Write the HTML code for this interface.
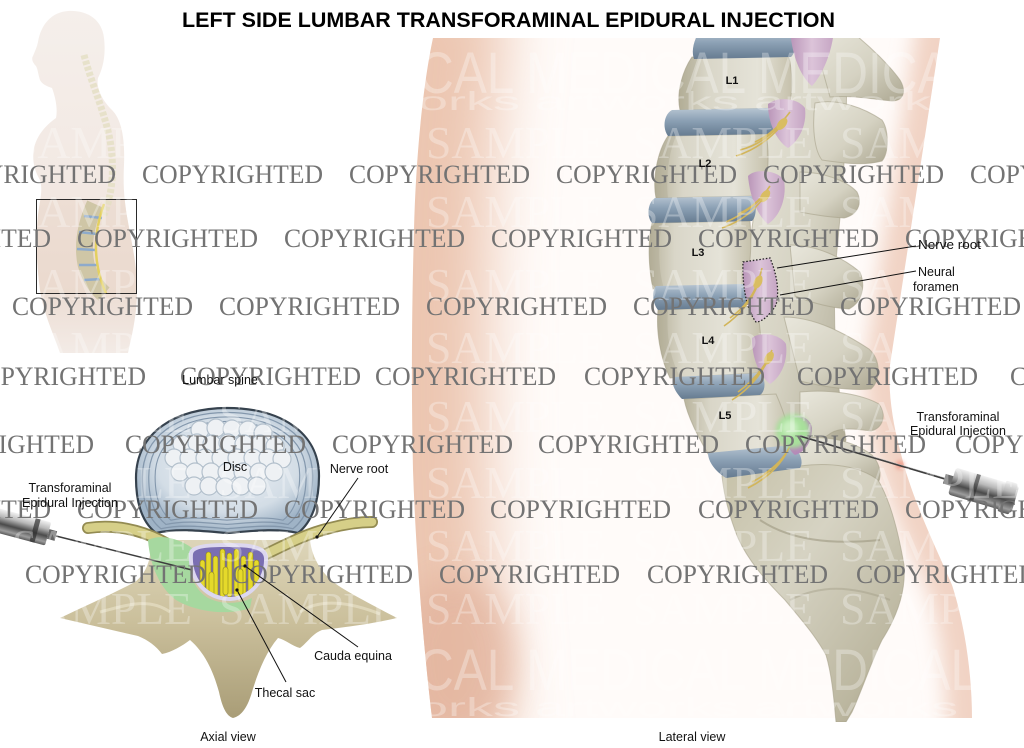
<!DOCTYPE html>
<html><head><meta charset="utf-8"><title>Left side lumbar transforaminal epidural injection</title>
<style>html,body{margin:0;padding:0;background:#fff;overflow:hidden}svg{display:block}</style>
</head><body>
<svg xmlns="http://www.w3.org/2000/svg" width="1024" height="748" viewBox="0 0 1024 748">
<defs>
<filter id="bl30" filterUnits="userSpaceOnUse" x="-200" y="-200" width="1500" height="1200"><feGaussianBlur stdDeviation="30"/></filter>
<filter id="bl16" filterUnits="userSpaceOnUse" x="-200" y="-200" width="1500" height="1200"><feGaussianBlur stdDeviation="16"/></filter>
<filter id="bl10" filterUnits="userSpaceOnUse" x="-200" y="-200" width="1500" height="1200"><feGaussianBlur stdDeviation="10"/></filter>
<filter id="bl3" filterUnits="userSpaceOnUse" x="-200" y="-200" width="1500" height="1200"><feGaussianBlur stdDeviation="2.5"/></filter>
<clipPath id="skin"><path d="M433,38 L940,38 L890,365 C888,390 892,420 900,450 C912,500 935,545 952,585 C965,625 972,675 972,718 L432,718 C424,650 416,560 413,470 C411,380 412,300 414,230 C416,150 424,80 433,38 Z"/></clipPath>
<clipPath id="spineclip"><rect x="0" y="38" width="1024" height="684"/></clipPath>
<clipPath id="figclip"><path d="M68,11 C88,10 102,20 104,38 C106,55 103,68 98,78 C96,88 102,100 112,110 C122,120 125,140 124,165 C123,185 124,200 128,222 C132,245 137,265 137,290 C137,315 132,335 128,353 L60,353 C54,335 44,315 40,290 C36,260 36,235 38,215 C40,200 43,190 40,180 C34,170 32,160 34,148 C37,135 46,125 56,118 C58,108 55,96 52,88 C46,86 42,84 40,80 C38,74 38,70 36,66 C33,63 31,59 33,56 C35,51 37,47 38,42 C41,24 52,12 68,11 Z"/></clipPath>
<clipPath id="sacin"><path d="M193,554 C194,548 207,547 228,547 C251,547 263,549 264,558 C265,575 252,596 230,597 C209,597 191,580 193,554 Z"/></clipPath>
<linearGradient id="gFig" x1="0" y1="0" x2="0" y2="1">
 <stop offset="0" stop-color="#f5efeb"/><stop offset="0.55" stop-color="#f2e8e2"/><stop offset="0.85" stop-color="#eddfd6"/><stop offset="1" stop-color="#f3ebe6"/>
</linearGradient>
<linearGradient id="gBone" x1="0" y1="0" x2="1" y2="1">
 <stop offset="0" stop-color="#e9e7dc"/><stop offset="0.55" stop-color="#d5d2c2"/><stop offset="1" stop-color="#aca791"/>
</linearGradient>
<linearGradient id="gSac" x1="0" y1="0" x2="1" y2="1">
 <stop offset="0" stop-color="#c6c1a8"/><stop offset="0.4" stop-color="#d6d3c3"/><stop offset="0.8" stop-color="#bcb7a0"/><stop offset="1" stop-color="#a19b82"/>
</linearGradient>
<linearGradient id="gBody" x1="0" y1="0" x2="1" y2="0">
 <stop offset="0" stop-color="#b9b49d"/><stop offset="0.25" stop-color="#d9d6c8"/><stop offset="0.7" stop-color="#e5e3d8"/><stop offset="1" stop-color="#c6c1ac"/>
</linearGradient>
<linearGradient id="gDisc" x1="0" y1="0" x2="0" y2="1">
 <stop offset="0" stop-color="#b7c5d2"/><stop offset="0.45" stop-color="#8ba0b4"/><stop offset="1" stop-color="#667b90"/>
</linearGradient>
<linearGradient id="gPink" x1="0" y1="0" x2="1" y2="0">
 <stop offset="0" stop-color="#b995b8"/><stop offset="0.5" stop-color="#dcc4d9"/><stop offset="1" stop-color="#c5a5c3"/>
</linearGradient>
<linearGradient id="gMetal" x1="0" y1="0" x2="0" y2="1">
 <stop offset="0" stop-color="#f2f2f2"/><stop offset="0.3" stop-color="#b9b9b9"/><stop offset="0.6" stop-color="#4a4a4a"/><stop offset="0.85" stop-color="#9c9c9c"/><stop offset="1" stop-color="#5a5a5a"/>
</linearGradient>
<linearGradient id="gAx" x1="0" y1="0" x2="0" y2="1">
 <stop offset="0" stop-color="#ddd5b9"/><stop offset="0.45" stop-color="#cbc09c"/><stop offset="1" stop-color="#a99d77"/>
</linearGradient>
<radialGradient id="gDiscAx" cx="0.5" cy="0.45" r="0.55">
 <stop offset="0" stop-color="#eef2f6"/><stop offset="0.7" stop-color="#d3dde6"/><stop offset="1" stop-color="#9fb3c6"/>
</radialGradient>
</defs>

<!-- Title -->
<text x="182" y="27" font-family="Liberation Sans, Arial, sans-serif" font-weight="bold" font-size="21" fill="#000" textLength="653" lengthAdjust="spacingAndGlyphs">LEFT SIDE LUMBAR TRANSFORAMINAL EPIDURAL INJECTION</text>

<!-- Human figure -->
<path d="M68,11 C88,10 102,20 104,38 C106,55 103,68 98,78 C96,88 102,100 112,110 C122,120 125,140 124,165 C123,185 124,200 128,222 C132,245 137,265 137,290 C137,315 132,335 128,353 L60,353 C54,335 44,315 40,290 C36,260 36,235 38,215 C40,200 43,190 40,180 C34,170 32,160 34,148 C37,135 46,125 56,118 C58,108 55,96 52,88 C46,86 42,84 40,80 C38,74 38,70 36,66 C33,63 31,59 33,56 C35,51 37,47 38,42 C41,24 52,12 68,11 Z" fill="url(#gFig)"/>
<g clip-path="url(#figclip)">
 <rect x="36" y="200" width="101" height="94" fill="#e8d3c6" opacity="0.5"/>
 <path d="M84,55 C92,85 104,110 110,140 C115,170 112,195 104,215" fill="none" stroke="#e4dec3" stroke-width="7" stroke-dasharray="4 2" opacity="0.8"/>
 <path d="M95,204 C86,224 82,244 86,264 C90,278 97,288 104,294" fill="none" stroke="#cfc6a6" stroke-width="17"/>
 <g stroke="#8eaacb" stroke-width="2.5">
  <line x1="84" y1="216" x2="102" y2="218"/><line x1="79" y1="232" x2="97" y2="234"/>
  <line x1="77" y1="249" x2="95" y2="250"/><line x1="79" y1="265" x2="97" y2="265"/>
  <line x1="84" y1="280" x2="102" y2="279"/>
 </g>
 <path d="M104,204 C96,226 94,248 98,268 C100,280 104,288 106,294" fill="none" stroke="#e3d060" stroke-width="2.5"/>
</g>
<rect x="36.5" y="199.5" width="100" height="94" fill="none" stroke="#2a2a2a" stroke-width="1"/>

<!-- Skin region (lateral) -->
<g clip-path="url(#skin)">
 <rect x="400" y="30" width="600" height="700" fill="#fffbf9"/>
 <path d="M433,-20 C424,80 416,150 414,230 C412,300 411,380 413,470 C416,560 424,650 432,760" fill="none" stroke="#ecc6b1" stroke-width="150" filter="url(#bl30)"/>
 <ellipse cx="455" cy="660" rx="60" ry="85" fill="#e2b39d" filter="url(#bl16)" opacity="0.75"/>
 <path d="M949,-20 L890,365 C888,390 892,420 900,450 C912,500 935,545 952,585 C965,625 972,675 972,760" fill="none" stroke="#f1d3c4" stroke-width="50" filter="url(#bl10)"/>
</g>

<!-- Lateral spine -->
<g clip-path="url(#spineclip)">
 <g stroke="#a6a18b" stroke-width="1" stroke-opacity="0.6">
 <!-- posterior column -->
 <path d="M770,30 L846,30 C849,120 842,200 836,260 C832,320 836,380 846,440 L836,465 L790,472 C770,440 760,400 758,370 C752,330 748,300 748,270 C750,230 758,190 765,150 C770,110 768,70 770,38 Z" fill="url(#gBone)"/>
 <path d="M812,32 L852,32 C872,48 890,66 900,80 C907,92 903,101 892,101 C872,99 850,95 830,97 Z" fill="url(#gBone)"/>
 <path d="M815,103 C838,98 864,108 882,120 C889,130 889,153 882,161 C864,166 842,163 822,160 C814,150 812,126 815,103 Z" fill="url(#gBone)"/>
 <path d="M800,172 C822,172 846,180 857,192 C863,204 857,215 844,218 C826,217 810,214 800,212 Z" fill="url(#gBone)"/>
 <path d="M790,245 C816,245 842,257 860,272 C866,287 862,302 849,309 C830,308 810,302 795,296 Z" fill="url(#gBone)"/>
 <path d="M784,317 C815,317 846,334 869,349 C881,360 881,380 871,389 C850,391 825,387 800,381 Z" fill="url(#gBone)"/>
 <path d="M800,392 C830,389 861,394 879,404 C887,415 883,428 871,431 C856,429 841,427 831,433 C821,441 810,441 800,437 Z" fill="url(#gBone)"/>
 <path d="M798,440 C822,434 852,440 872,455 C882,466 882,479 876,486 L800,472 Z" fill="url(#gBone)"/>
 <!-- sacrum -->
 <path d="M722,476 L800,466 C830,462 860,466 878,480 C890,500 898,530 904,565 C906,590 898,615 882,640 C872,660 862,690 852,712 L846,722 L836,722 C834,700 832,675 826,655 C815,635 800,618 785,600 C765,580 748,560 738,538 C730,518 724,496 722,476 Z" fill="url(#gSac)"/>
 <!-- vertebral bodies -->
 <path d="M692,57 L788,55 C793,70 793,95 788,108 L680,110 C676,92 683,70 692,57 Z" fill="url(#gBody)"/>
 <path d="M668,136 L766,134 C770,155 768,180 762,196 L656,198 C652,178 658,150 668,136 Z" fill="url(#gBody)"/>
 <path d="M652,223 L750,221 C752,245 750,268 746,286 L653,289 C648,265 648,240 652,223 Z" fill="url(#gBody)"/>
 <path d="M658,310 L756,306 C762,330 762,352 758,373 L670,378 C660,358 656,330 658,310 Z" fill="url(#gBody)"/>
 <path d="M684,399 L776,394 C784,412 790,430 790,446 L708,454 C698,436 688,418 684,399 Z" fill="url(#gBody)"/>
 </g>
 <path d="M760,520 C790,540 830,545 880,540" fill="none" stroke="#9d9881" stroke-width="2" opacity="0.6"/>
 <path d="M790,600 C820,585 850,585 890,600" fill="none" stroke="#9d9881" stroke-width="2" opacity="0.4"/>
 <!-- body shadows -->
 <g fill="#9f9a83" opacity="0.25">
  <path d="M680,110 C676,92 683,70 692,57 L700,57 C692,75 690,95 692,110 Z"/>
  <path d="M656,198 C652,178 658,150 668,136 L676,136 C668,155 666,178 668,198 Z"/>
  <path d="M653,289 C648,265 648,240 652,223 L662,223 C658,245 658,268 664,289 Z"/>
  <path d="M670,378 C660,358 656,330 658,310 L668,310 C666,335 670,358 680,377 Z"/>
 </g>
 <!-- discs -->
 <path d="M700,30 L792,30 C796,44 796,52 791,57 L694,59 C691,50 694,40 700,30 Z" fill="url(#gDisc)"/>
 <path d="M672,110 L770,108 C776,113 776,128 770,134 L668,136 C662,128 664,114 672,110 Z" fill="url(#gDisc)"/>
 <path d="M655,198 L752,196 C757,202 757,216 752,221 L652,223 C646,216 648,202 655,198 Z" fill="url(#gDisc)"/>
 <path d="M656,286 L744,284 C750,290 750,302 745,307 L658,310 C652,303 652,290 656,286 Z" fill="url(#gDisc)"/>
 <path d="M674,377 L760,373 C766,379 766,391 760,395 L682,399 C676,393 670,383 674,377 Z" fill="url(#gDisc)"/>
 <path d="M708,453 L792,445 C800,451 804,462 800,468 L726,478 C716,472 708,462 708,453 Z" fill="url(#gDisc)"/>
 <!-- pink foramina -->
 <path d="M790,30 L834,30 C832,52 823,74 812,86 C800,76 792,55 790,30 Z" fill="url(#gPink)"/>
 <path d="M768,104 C778,96 798,98 805,108 C807,124 800,140 788,148 C778,142 768,125 768,104 Z" fill="url(#gPink)"/>
 <path d="M748,176 C755,168 777,170 784,180 C787,198 780,216 768,224 C758,216 750,198 748,176 Z" fill="url(#gPink)"/>
 <path d="M743,262 L770,258 C776,272 780,290 776,305 C770,315 762,322 756,322 C748,312 742,290 743,262 Z" fill="url(#gPink)"/>
 <path d="M743,262 L770,258 C776,272 780,290 776,305 C770,315 762,322 756,322 C748,312 742,290 743,262 Z" fill="none" stroke="#222" stroke-width="1.3" stroke-dasharray="1.5 1.8"/>
 <path d="M752,338 C760,331 780,334 786,344 C788,360 782,376 770,384 C760,376 752,360 752,338 Z" fill="url(#gPink)"/>
 <path d="M785,420 C795,412 810,416 812,428 C812,442 805,452 795,455 C786,448 782,432 785,420 Z" fill="#b58ab8"/>
 <!-- nerves -->
 <g fill="none" stroke="#d2b55a" stroke-width="1.6">
  <path d="M790,112 C780,125 770,135 755,142"/><path d="M786,118 C775,132 760,145 740,150"/><path d="M784,122 C772,138 755,150 736,156"/>
  <path d="M770,186 C762,198 752,208 738,214"/><path d="M768,190 C758,204 744,214 726,222"/><path d="M766,194 C756,210 740,222 722,228"/>
  <path d="M762,268 C758,285 752,298 742,310"/><path d="M760,278 C754,295 744,308 730,318"/><path d="M758,284 C752,300 740,315 724,326"/>
  <path d="M772,350 C766,364 760,374 750,384"/><path d="M770,356 C762,370 752,382 738,392"/><path d="M768,360 C760,376 748,390 732,400"/>
  <path d="M790,446 C784,458 776,466 764,474"/><path d="M788,450 C780,464 768,474 752,482"/><path d="M786,454 C778,468 764,480 748,488"/>
 </g>
 <g fill="#d9bd62">
  <ellipse cx="782" cy="124" rx="7" ry="4" transform="rotate(-50 782 124)"/>
  <ellipse cx="765" cy="196" rx="7" ry="4" transform="rotate(-55 765 196)"/>
  <ellipse cx="758" cy="282" rx="7" ry="4" transform="rotate(-65 758 282)"/>
  <ellipse cx="769" cy="358" rx="7" ry="4" transform="rotate(-60 769 358)"/>
 </g>
 <!-- injectate -->
 <circle cx="793" cy="431" r="17" fill="#a8e09b" filter="url(#bl3)"/>
 <circle cx="790" cy="428" r="8" fill="#c9efbf" filter="url(#bl3)"/>
</g>

<!-- lateral needle and syringe -->
<circle cx="900" cy="465" r="4" fill="#f07a66" filter="url(#bl3)" opacity="0.7"/>
<line x1="800" y1="436" x2="952" y2="481" stroke="#3e3e3e" stroke-width="1.7"/>
<line x1="800" y1="435" x2="952" y2="480" stroke="#bbb" stroke-width="0.5"/>
<g transform="rotate(16.5 952 481)">
 <rect x="944" y="476" width="9" height="10" fill="#6a6a6a"/>
 <rect x="952" y="467" width="66" height="28" rx="3" fill="url(#gMetal)"/>
 <rect x="974" y="467" width="4" height="28" fill="#2e2e2e" opacity="0.6"/>
 <rect x="1004" y="465" width="12" height="32" rx="2" fill="url(#gMetal)"/>
</g>

<!-- Axial view -->
<path d="M60,618 C85,606 112,594 135,582 C148,572 152,556 150,540 L310,540 C312,558 322,576 342,588 C362,600 382,610 397,618 C372,624 345,627 322,630 C312,634 308,642 300,648 C292,646 286,640 278,638 C266,652 258,672 252,692 C248,706 242,716 233,718 C226,716 222,706 219,692 C213,670 204,652 190,640 C182,646 172,652 162,654 C156,646 148,640 138,636 C112,630 86,624 60,618 Z" fill="url(#gAx)"/>
<path d="M100,612 C130,604 150,598 170,612 M300,612 C320,598 350,602 380,614" fill="none" stroke="#ebe4cc" stroke-width="3" opacity="0.6"/>
<!-- disc -->
<path d="M136,478 C136,432 176,408 227,408 C280,408 319,432 319,476 C319,502 312,522 298,533 C276,528 252,531 227,533 C202,531 178,528 156,533 C142,522 136,502 136,478 Z" fill="url(#gDiscAx)" stroke="#36424e" stroke-width="2.2"/>
<g fill="none" stroke="#8397ac" stroke-width="1.4">
 <path transform="translate(227,472) scale(0.93) translate(-227,-472)" d="M136,478 C136,432 176,408 227,408 C280,408 319,432 319,476 C319,502 312,522 298,533 C276,528 252,531 227,533 C202,531 178,528 156,533 C142,522 136,502 136,478 Z"/>
 <path transform="translate(227,472) scale(0.86) translate(-227,-472)" d="M136,478 C136,432 176,408 227,408 C280,408 319,432 319,476 C319,502 312,522 298,533 C276,528 252,531 227,533 C202,531 178,528 156,533 C142,522 136,502 136,478 Z"/>
 <path transform="translate(227,472) scale(0.79) translate(-227,-472)" d="M136,478 C136,432 176,408 227,408 C280,408 319,432 319,476 C319,502 312,522 298,533 C276,528 252,531 227,533 C202,531 178,528 156,533 C142,522 136,502 136,478 Z"/>
</g>
<g fill="#eef1f4" stroke="#b3c0cc" stroke-width="1.2">
 <circle cx="200" cy="430" r="9"/><circle cx="216" cy="428" r="9"/><circle cx="232" cy="429" r="9"/><circle cx="248" cy="430" r="9"/><circle cx="263" cy="433" r="9"/>
 <circle cx="182" cy="444" r="9"/><circle cx="197" cy="443" r="9"/><circle cx="212" cy="444" r="9"/><circle cx="228" cy="443" r="9"/><circle cx="244" cy="444" r="9"/><circle cx="260" cy="444" r="9"/><circle cx="275" cy="446" r="9"/>
 <circle cx="174" cy="458" r="9"/><circle cx="189" cy="458" r="9"/><circle cx="205" cy="458" r="9"/><circle cx="221" cy="458" r="9"/><circle cx="237" cy="458" r="9"/><circle cx="253" cy="458" r="9"/><circle cx="268" cy="458" r="9"/><circle cx="282" cy="459" r="9"/>
 <circle cx="180" cy="472" r="9"/><circle cx="195" cy="472" r="9"/><circle cx="211" cy="472" r="9"/><circle cx="227" cy="472" r="9"/><circle cx="243" cy="472" r="9"/><circle cx="259" cy="472" r="9"/><circle cx="274" cy="472" r="9"/>
 <circle cx="194" cy="486" r="9"/><circle cx="209" cy="486" r="9"/><circle cx="225" cy="487" r="9"/><circle cx="241" cy="486" r="9"/><circle cx="257" cy="486" r="9"/>
</g>
<!-- nerve roots -->
<g fill="none" stroke-linecap="round">
 <path d="M88,528 C115,524 140,530 160,540 C172,546 182,552 192,560" stroke="#938b52" stroke-width="12"/>
 <path d="M88,528 C115,524 140,530 160,540 C172,546 182,552 192,560" stroke="#d6cf88" stroke-width="8.5"/>
 <path d="M262,556 C285,545 305,534 330,528 C345,524 360,522 372,522" stroke="#938b52" stroke-width="12"/>
 <path d="M262,556 C285,545 305,534 330,528 C345,524 360,522 372,522" stroke="#d6cf88" stroke-width="8.5"/>
</g>
<!-- green epidural -->
<path d="M148,540 C160,534 178,538 192,548 C186,568 192,588 208,598 C222,605 240,604 252,598 L250,608 C228,616 196,612 176,600 C160,588 150,566 148,540 Z" fill="#a6d89f"/>
<!-- thecal sac -->
<path d="M189,553 C190,545 205,543 228,543 C254,543 267,546 268,557 C269,576 255,600 230,601 C206,601 187,582 189,553 Z" fill="#dcd7ef"/>
<path d="M193,554 C194,548 207,547 228,547 C251,547 263,549 264,558 C265,575 252,596 230,597 C209,597 191,580 193,554 Z" fill="#7a6eb2"/>
<g clip-path="url(#sacin)" fill="#e5d92a" stroke="#8b8420" stroke-width="0.6">
 <rect x="200" y="560" width="5" height="40" rx="2.5"/><rect x="206" y="552" width="5" height="45" rx="2.5"/>
 <rect x="213" y="556" width="5" height="42" rx="2.5"/><rect x="220" y="549" width="5" height="48" rx="2.5"/>
 <rect x="227" y="553" width="5" height="44" rx="2.5"/><rect x="234" y="549" width="5" height="48" rx="2.5"/>
 <rect x="241" y="556" width="5" height="40" rx="2.5"/><rect x="248" y="552" width="5" height="42" rx="2.5"/>
 <rect x="254" y="560" width="5" height="30" rx="2.5"/><rect x="209" y="572" width="5" height="24" rx="2.5"/>
 <rect x="223" y="567" width="5" height="28" rx="2.5"/><rect x="238" y="569" width="5" height="26" rx="2.5"/>
</g>
<!-- axial syringe and needle -->
<line x1="56" y1="536" x2="192" y2="570" stroke="#3d3d3d" stroke-width="1.5"/>
<g transform="rotate(15 52 535)">
 <rect x="-14" y="523" width="62" height="24" rx="2" fill="url(#gMetal)"/>
 <rect x="32" y="523" width="5" height="24" fill="#2e2e2e" opacity="0.7"/>
 <rect x="48" y="530" width="8" height="10" fill="#666"/>
</g>

<!-- SAMPLE watermark -->
<g font-family="Liberation Serif, 'Times New Roman', serif" font-size="46" fill="#fff" opacity="0.3">
 <text x="12" y="158" textLength="180" lengthAdjust="spacingAndGlyphs">SAMPLE</text><text x="219" y="158" textLength="180" lengthAdjust="spacingAndGlyphs">SAMPLE</text><text x="426" y="158" textLength="180" lengthAdjust="spacingAndGlyphs">SAMPLE</text><text x="633" y="158" textLength="180" lengthAdjust="spacingAndGlyphs">SAMPLE</text><text x="840" y="158" textLength="180" lengthAdjust="spacingAndGlyphs">SAMPLE</text>
 <text x="12" y="227" textLength="180" lengthAdjust="spacingAndGlyphs">SAMPLE</text><text x="219" y="227" textLength="180" lengthAdjust="spacingAndGlyphs">SAMPLE</text><text x="426" y="227" textLength="180" lengthAdjust="spacingAndGlyphs">SAMPLE</text><text x="633" y="227" textLength="180" lengthAdjust="spacingAndGlyphs">SAMPLE</text><text x="840" y="227" textLength="180" lengthAdjust="spacingAndGlyphs">SAMPLE</text>
 <text x="12" y="300" textLength="180" lengthAdjust="spacingAndGlyphs">SAMPLE</text><text x="219" y="300" textLength="180" lengthAdjust="spacingAndGlyphs">SAMPLE</text><text x="426" y="300" textLength="180" lengthAdjust="spacingAndGlyphs">SAMPLE</text><text x="633" y="300" textLength="180" lengthAdjust="spacingAndGlyphs">SAMPLE</text><text x="840" y="300" textLength="180" lengthAdjust="spacingAndGlyphs">SAMPLE</text>
 <text x="12" y="363" textLength="180" lengthAdjust="spacingAndGlyphs">SAMPLE</text><text x="219" y="363" textLength="180" lengthAdjust="spacingAndGlyphs">SAMPLE</text><text x="426" y="363" textLength="180" lengthAdjust="spacingAndGlyphs">SAMPLE</text><text x="633" y="363" textLength="180" lengthAdjust="spacingAndGlyphs">SAMPLE</text><text x="840" y="363" textLength="180" lengthAdjust="spacingAndGlyphs">SAMPLE</text>
 <text x="12" y="432" textLength="180" lengthAdjust="spacingAndGlyphs">SAMPLE</text><text x="219" y="432" textLength="180" lengthAdjust="spacingAndGlyphs">SAMPLE</text><text x="426" y="432" textLength="180" lengthAdjust="spacingAndGlyphs">SAMPLE</text><text x="633" y="432" textLength="180" lengthAdjust="spacingAndGlyphs">SAMPLE</text><text x="840" y="432" textLength="180" lengthAdjust="spacingAndGlyphs">SAMPLE</text>
 <text x="12" y="498" textLength="180" lengthAdjust="spacingAndGlyphs">SAMPLE</text><text x="219" y="498" textLength="180" lengthAdjust="spacingAndGlyphs">SAMPLE</text><text x="426" y="498" textLength="180" lengthAdjust="spacingAndGlyphs">SAMPLE</text><text x="633" y="498" textLength="180" lengthAdjust="spacingAndGlyphs">SAMPLE</text><text x="840" y="498" textLength="180" lengthAdjust="spacingAndGlyphs">SAMPLE</text>
 <text x="12" y="561" textLength="180" lengthAdjust="spacingAndGlyphs">SAMPLE</text><text x="219" y="561" textLength="180" lengthAdjust="spacingAndGlyphs">SAMPLE</text><text x="426" y="561" textLength="180" lengthAdjust="spacingAndGlyphs">SAMPLE</text><text x="633" y="561" textLength="180" lengthAdjust="spacingAndGlyphs">SAMPLE</text><text x="840" y="561" textLength="180" lengthAdjust="spacingAndGlyphs">SAMPLE</text>
 <text x="12" y="624" textLength="180" lengthAdjust="spacingAndGlyphs">SAMPLE</text><text x="219" y="624" textLength="180" lengthAdjust="spacingAndGlyphs">SAMPLE</text><text x="426" y="624" textLength="180" lengthAdjust="spacingAndGlyphs">SAMPLE</text><text x="633" y="624" textLength="180" lengthAdjust="spacingAndGlyphs">SAMPLE</text><text x="840" y="624" textLength="180" lengthAdjust="spacingAndGlyphs">SAMPLE</text>
</g>
<!-- MEDICAL artworks watermark -->
<g font-family="Liberation Sans, Arial, sans-serif" fill="#fff" opacity="0.3">
 <text x="418" y="93" font-size="58" textLength="560" lengthAdjust="spacingAndGlyphs">CAL MEDICAL MEDICAL</text>
 <text x="418" y="110" font-size="26" textLength="540" lengthAdjust="spacingAndGlyphs">orks        artworks        artworks</text>
 <text x="418" y="690" font-size="58" textLength="560" lengthAdjust="spacingAndGlyphs">CAL MEDICAL MEDICAL</text>
 <text x="418" y="716" font-size="26" textLength="540" lengthAdjust="spacingAndGlyphs">orks        artworks        artworks</text>
</g>

<!-- COPYRIGHTED watermark -->
<g font-family="Liberation Serif, 'Times New Roman', serif" font-size="26" fill="#737373">
 <text x="-65" y="183" textLength="181" lengthAdjust="spacingAndGlyphs">COPYRIGHTED</text><text x="142" y="183" textLength="181" lengthAdjust="spacingAndGlyphs">COPYRIGHTED</text><text x="349" y="183" textLength="181" lengthAdjust="spacingAndGlyphs">COPYRIGHTED</text><text x="556" y="183" textLength="181" lengthAdjust="spacingAndGlyphs">COPYRIGHTED</text><text x="763" y="183" textLength="181" lengthAdjust="spacingAndGlyphs">COPYRIGHTED</text><text x="970" y="183" textLength="181" lengthAdjust="spacingAndGlyphs">COPYRIGHTED</text>
 <text x="-130" y="247" textLength="181" lengthAdjust="spacingAndGlyphs">COPYRIGHTED</text><text x="77" y="247" textLength="181" lengthAdjust="spacingAndGlyphs">COPYRIGHTED</text><text x="284" y="247" textLength="181" lengthAdjust="spacingAndGlyphs">COPYRIGHTED</text><text x="491" y="247" textLength="181" lengthAdjust="spacingAndGlyphs">COPYRIGHTED</text><text x="698" y="247" textLength="181" lengthAdjust="spacingAndGlyphs">COPYRIGHTED</text><text x="905" y="247" textLength="181" lengthAdjust="spacingAndGlyphs">COPYRIGHTED</text>
 <text x="12" y="315" textLength="181" lengthAdjust="spacingAndGlyphs">COPYRIGHTED</text><text x="219" y="315" textLength="181" lengthAdjust="spacingAndGlyphs">COPYRIGHTED</text><text x="426" y="315" textLength="181" lengthAdjust="spacingAndGlyphs">COPYRIGHTED</text><text x="633" y="315" textLength="181" lengthAdjust="spacingAndGlyphs">COPYRIGHTED</text><text x="840" y="315" textLength="181" lengthAdjust="spacingAndGlyphs">COPYRIGHTED</text>
 <text x="-35" y="385" textLength="181" lengthAdjust="spacingAndGlyphs">COPYRIGHTED</text><text x="180" y="385" textLength="181" lengthAdjust="spacingAndGlyphs">COPYRIGHTED</text><text x="375" y="385" textLength="181" lengthAdjust="spacingAndGlyphs">COPYRIGHTED</text><text x="584" y="385" textLength="181" lengthAdjust="spacingAndGlyphs">COPYRIGHTED</text><text x="797" y="385" textLength="181" lengthAdjust="spacingAndGlyphs">COPYRIGHTED</text><text x="1010" y="385" textLength="181" lengthAdjust="spacingAndGlyphs">COPYRIGHTED</text>
 <text x="-87" y="453" textLength="181" lengthAdjust="spacingAndGlyphs">COPYRIGHTED</text><text x="125" y="453" textLength="181" lengthAdjust="spacingAndGlyphs">COPYRIGHTED</text><text x="332" y="453" textLength="181" lengthAdjust="spacingAndGlyphs">COPYRIGHTED</text><text x="538" y="453" textLength="181" lengthAdjust="spacingAndGlyphs">COPYRIGHTED</text><text x="745" y="453" textLength="181" lengthAdjust="spacingAndGlyphs">COPYRIGHTED</text><text x="955" y="453" textLength="181" lengthAdjust="spacingAndGlyphs">COPYRIGHTED</text>
 <text x="-130" y="518" textLength="181" lengthAdjust="spacingAndGlyphs">COPYRIGHTED</text><text x="77" y="518" textLength="181" lengthAdjust="spacingAndGlyphs">COPYRIGHTED</text><text x="284" y="518" textLength="181" lengthAdjust="spacingAndGlyphs">COPYRIGHTED</text><text x="490" y="518" textLength="181" lengthAdjust="spacingAndGlyphs">COPYRIGHTED</text><text x="698" y="518" textLength="181" lengthAdjust="spacingAndGlyphs">COPYRIGHTED</text><text x="905" y="518" textLength="181" lengthAdjust="spacingAndGlyphs">COPYRIGHTED</text>
 <text x="25" y="583" textLength="181" lengthAdjust="spacingAndGlyphs">COPYRIGHTED</text><text x="232" y="583" textLength="181" lengthAdjust="spacingAndGlyphs">COPYRIGHTED</text><text x="439" y="583" textLength="181" lengthAdjust="spacingAndGlyphs">COPYRIGHTED</text><text x="647" y="583" textLength="181" lengthAdjust="spacingAndGlyphs">COPYRIGHTED</text><text x="856" y="583" textLength="181" lengthAdjust="spacingAndGlyphs">COPYRIGHTED</text>
</g>

<!-- leader lines -->
<g stroke="#111" stroke-width="1" fill="none">
 <line x1="358" y1="478" x2="317" y2="537"/>
 <line x1="358" y1="647" x2="245" y2="566"/>
 <line x1="286" y1="682" x2="237" y2="590"/>
 <line x1="916" y1="246" x2="777" y2="268"/>
 <line x1="916" y1="271" x2="780" y2="295"/>
</g>
<circle cx="317" cy="537" r="1.6" fill="#111"/>
<circle cx="245" cy="566" r="1.6" fill="#111"/>
<circle cx="237" cy="590" r="1.6" fill="#111"/>

<!-- labels -->
<g font-family="Liberation Sans, Arial, sans-serif" font-size="12.5" fill="#111">
 <text x="220" y="384" text-anchor="middle">Lumbar spine</text>
 <text x="235" y="471" text-anchor="middle">Disc</text>
 <text x="359" y="473" text-anchor="middle">Nerve root</text>
 <text x="70" y="492" text-anchor="middle">Transforaminal</text>
 <text x="70" y="507" text-anchor="middle">Epidural Injection</text>
 <text x="353" y="660" text-anchor="middle">Cauda equina</text>
 <text x="285" y="697" text-anchor="middle">Thecal sac</text>
 <text x="228" y="741" text-anchor="middle">Axial view</text>
 <text x="692" y="741" text-anchor="middle">Lateral view</text>
 <text x="918" y="249" textLength="63" lengthAdjust="spacingAndGlyphs">Nerve root</text>
 <text x="918" y="276">Neural</text>
 <text x="913" y="291">foramen</text>
 <text x="958" y="421" text-anchor="middle">Transforaminal</text>
 <text x="958" y="435" text-anchor="middle">Epidural Injection</text>
</g>
<g font-family="Liberation Sans, Arial, sans-serif" font-size="11" font-weight="bold" fill="#111" text-anchor="middle">
 <text x="732" y="84">L1</text>
 <text x="705" y="167">L2</text>
 <text x="698" y="256">L3</text>
 <text x="708" y="344">L4</text>
 <text x="725" y="419">L5</text>
</g>
</svg>
</body></html>
